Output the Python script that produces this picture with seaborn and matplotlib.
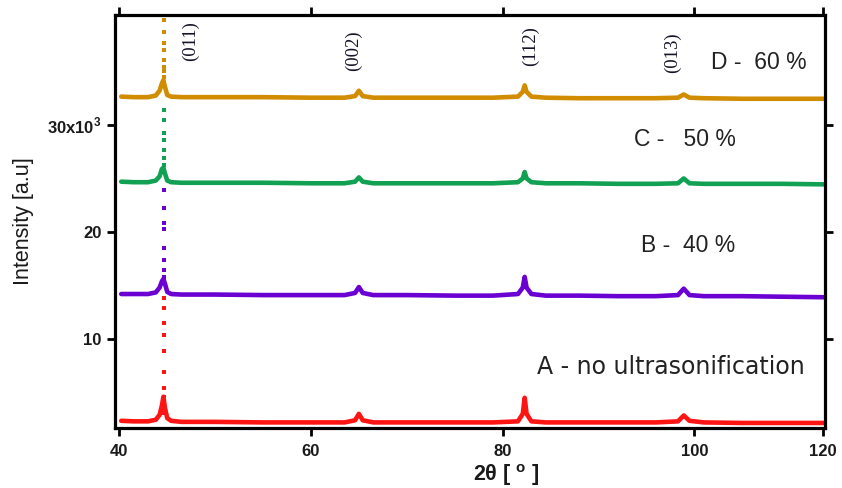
import matplotlib
matplotlib.use("Agg")
import matplotlib.pyplot as plt
import seaborn as sns
import pandas as pd

# 2θ positions (degrees) at which each pattern is read
two_theta = [40.2, 41.5, 43.0, 43.8, 44.2, 44.45, 44.6, 44.75, 45.0, 45.4, 46.5,
             50.0, 55.0, 60.0, 63.5, 64.6, 65.0, 65.4, 66.5, 70.0, 75.0, 79.0,
             81.6, 82.1, 82.3, 82.5, 83.0, 84.5, 88.0, 92.0, 96.0, 98.3, 98.9,
             99.5, 101.0, 105.0, 109.0, 113.5]

# Intensities in units of 10^3 counts (patterns stacked with offsets)
int_a = [2.35, 2.30, 2.30, 2.45, 2.90, 3.80, 4.60, 3.60, 2.60, 2.35, 2.25,
         2.25, 2.20, 2.20, 2.20, 2.40, 3.00, 2.40, 2.20, 2.20, 2.20, 2.20,
         2.30, 3.00, 4.50, 3.00, 2.30, 2.20, 2.20, 2.20, 2.20, 2.30, 2.85,
         2.35, 2.20, 2.15, 2.15, 2.15]
int_b = [14.20, 14.20, 14.20, 14.35, 14.80, 15.40, 15.60, 15.20, 14.40, 14.20, 14.15,
         14.15, 14.10, 14.10, 14.10, 14.30, 14.85, 14.30, 14.10, 14.10, 14.05, 14.05,
         14.20, 14.80, 15.80, 14.80, 14.20, 14.05, 14.05, 14.00, 14.00, 14.10, 14.70,
         14.10, 14.00, 14.00, 13.95, 13.90]
int_c = [24.70, 24.65, 24.65, 24.80, 25.20, 25.90, 26.00, 25.50, 24.80, 24.65, 24.60,
         24.60, 24.60, 24.55, 24.55, 24.70, 25.10, 24.70, 24.55, 24.55, 24.55, 24.55,
         24.65, 25.00, 25.60, 25.00, 24.65, 24.55, 24.55, 24.50, 24.50, 24.55, 25.00,
         24.55, 24.50, 24.50, 24.50, 24.45]
int_d = [32.65, 32.60, 32.60, 32.75, 33.20, 33.90, 34.20, 33.60, 32.80, 32.65, 32.60,
         32.60, 32.60, 32.55, 32.55, 32.70, 33.20, 32.70, 32.55, 32.55, 32.55, 32.55,
         32.65, 33.10, 33.70, 33.10, 32.65, 32.55, 32.50, 32.50, 32.50, 32.55, 32.85,
         32.55, 32.50, 32.45, 32.45, 32.45]

# Sparse points on the steep flank of the (011) reflection
peak_011 = 44.65
dots_a = [3.08, 3.55, 4.02, 4.58, 5.42, 6.92, 8.88, 10.37, 11.50, 12.90, 13.83]
dots_b = [15.23, 15.79, 16.45, 17.38, 18.50, 20.28, 20.84, 22.24, 23.93]
dots_c = [25.60, 26.26, 26.90, 27.66, 28.60, 29.25, 30.47, 31.40]
dots_d = [33.90, 34.50, 35.00, 35.40, 36.10, 37.00, 37.70, 38.70, 39.80, 40.40]

series_labels = ["A - no ultrasonification", "B -  40 %", "C -   50 %", "D -  60 %"]
series_colors = ["#ff1414", "#6a00d2", "#12a052", "#d28c00"]

hkl_labels = ["(011)", "(002)", "(112)", "(013)"]

x_tick_values = [40, 60, 80, 100, 113.46]
x_tick_labels = ["40", "60", "80", "100", "120"]
y_tick_values = [10, 20, 30]
y_tick_labels = ["10", "20", r"30x10$^{\mathbf{3}}$"]

sns.set_style("ticks")
plt.rcParams["font.family"] = ["Liberation Sans", "DejaVu Sans"]
plt.rcParams["mathtext.fontset"] = "custom"
plt.rcParams["mathtext.rm"] = "Liberation Sans"
plt.rcParams["mathtext.bf"] = "Liberation Sans:bold"

fig = plt.figure(figsize=(8.42, 4.88), dpi=100)
ax = fig.add_axes([0.1366, 0.1230, 0.8432, 0.8463])

profiles = [int_a, int_b, int_c, int_d]
dots = [dots_a, dots_b, dots_c, dots_d]
for prof, pk, col in zip(profiles, dots, series_colors):
    df = pd.DataFrame({"two_theta": two_theta, "intensity": prof})
    sns.lineplot(data=df, x="two_theta", y="intensity", color=col, lw=3.3,
                 sort=False, estimator=None, ax=ax, legend=False)
    sns.scatterplot(x=[peak_011] * len(pk), y=pk, color=col, marker="s", s=11,
                    linewidth=0, ax=ax, legend=False)

ax.set_xlim(39.55, 113.64)
ax.set_ylim(1.68, 40.28)

ax.set_xticks(x_tick_values)
ax.set_xticklabels(x_tick_labels)
ax.set_yticks(y_tick_values)
ax.set_yticklabels(y_tick_labels)

for sp in ax.spines.values():
    sp.set_visible(True)
    sp.set_linewidth(2.3)
    sp.set_color("black")

ax.tick_params(axis="both", which="major", direction="out", length=5.5, width=2.0,
               color="black", labelsize=12, labelcolor="#1a1a1a",
               top=True, right=True, labeltop=False, labelright=False)
ax.tick_params(axis="x", pad=6)
ax.tick_params(axis="y", pad=4)
for lab in ax.get_xticklabels() + ax.get_yticklabels():
    lab.set_fontweight("bold")

ax.set_xlabel(r"2θ [ $^{\mathbf{o}}$ ]", fontsize=15.5, fontweight="bold", color="#1a1a1a")
ax.xaxis.label.set_va("center")
ax.xaxis.set_label_coords(0.551, -0.113)
ax.set_ylabel("Intensity [a.u]", fontsize=15.5, color="#1a1a1a")
ax.yaxis.label.set_va("center")
ax.yaxis.set_label_coords(-0.1296, 0.5)

# Miller indices of the reflections
hkl_pos = [(47.38, 37.85), (64.4, 36.9), (82.86, 37.4), (97.7, 36.8)]
for lab, (xp, yp) in zip(hkl_labels, hkl_pos):
    ax.text(xp, yp, lab, rotation=90, ha="center", va="center", fontsize=13.5,
            family="Liberation Serif", color="#15152a")

# Sample labels next to each pattern
label_pos = [(83.6, 7.41), (94.4, 18.74), (93.7, 28.6), (101.74, 35.8)]
for i, (lab, (xp, yp)) in enumerate(zip(series_labels, label_pos)):
    fam = ["DejaVu Sans"] if i == 0 else ["Liberation Sans", "DejaVu Sans"]
    ax.text(xp, yp, lab, ha="left", va="center", fontsize=17 if i == 0 else 16.5,
            family=fam, color="#222222")

fig.savefig("out.png", dpi=100)
